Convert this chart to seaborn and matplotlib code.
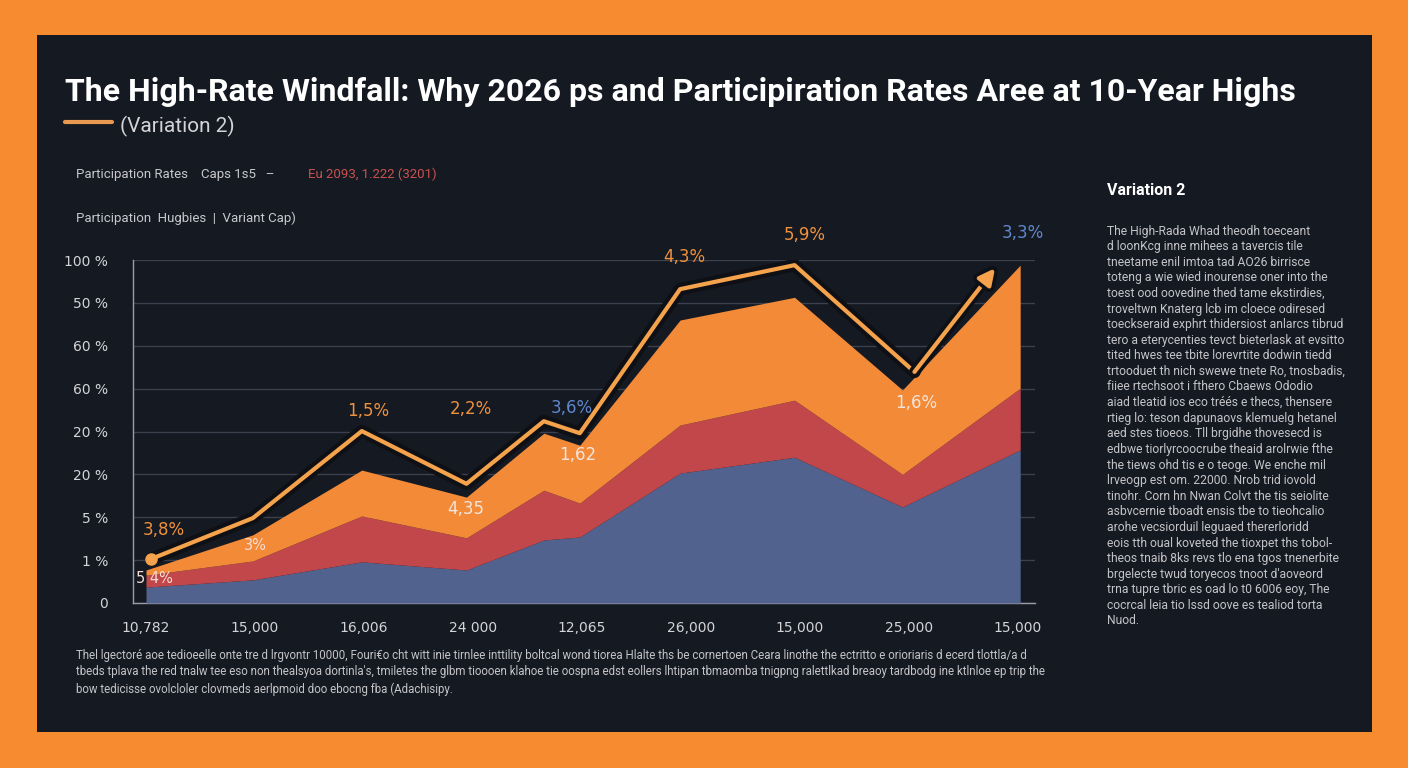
import matplotlib
matplotlib.use("Agg")
import matplotlib.pyplot as plt
import matplotlib.patheffects as pe
from matplotlib.patches import Rectangle
import seaborn as sns
import pandas as pd

# ---------------- data ----------------
x_tick_labels = ["10,782", "15,000", "16,006", "24 000", "12,065", "26,000", "15,000", "25,000", "15,000"]
y_tick_labels = ["0", "1 %", "5 %", "20 %", "20 %", "60 %", "60 %", "50 %", "100 %"]

area_x = [0, 0.98, 1.98, 2.94, 3.65, 3.98, 4.9, 5.95, 6.94, 8.02]
blue_vals = [0.37, 0.54, 0.96, 0.77, 1.47, 1.54, 3.03, 3.40, 2.24, 3.57]
red_vals = [0.28, 0.44, 1.07, 0.75, 1.16, 0.79, 1.12, 1.33, 0.76, 1.44]
orange_vals = [0.12, 0.61, 1.07, 0.95, 1.33, 1.35, 2.45, 2.40, 1.97, 2.87]

line_x = [0.05, 0.98, 1.98, 2.94, 3.65, 3.98, 4.9, 5.95, 7.05]
line_y = [1.03, 1.98, 4.01, 2.78, 4.24, 3.96, 7.32, 7.88, 5.39]
arrow_end = (7.79, 7.81)

label_text = ["3,8%", "5 4%", "3%", "1,5%", "2,2%", "4,35", "3,6%", "1,62", "4,3%", "5,9%", "1,6%", "3,3%"]
label_x = [0.16, 0.08, 1.0, 2.04, 2.98, 2.93, 3.91, 3.96, 4.94, 6.04, 7.07, 8.04]
label_y = [1.70, 0.58, 1.33, 4.48, 4.52, 2.19, 4.55, 3.45, 8.07, 8.58, 4.66, 8.63]
label_kind = ["o", "s", "s", "o", "o", "w", "b", "w", "o", "o", "w", "b"]

title = "The High-Rate Windfall: Why 2026 ps and Participiration Rates Aree at 10-Year Highs"
subtitle = "(Variation 2)"
legend1a = "Participation Rates    Caps 1s5   –"
legend1b = "Eu 2093, 1.222 (3201)"
legend2 = "Participation  Hugbies  |  Variant Cap)"
side_title = "Variation 2"
side_lines = [
    "The High-Rada Whad theodh toeceant",
    "d loonKcg inne mihees a tavercis tile",
    "tneetame enil imtoa tad AO26 birrisce",
    "toteng a wie wied inourense oner into the",
    "toest ood oovedine thed tame ekstirdies,",
    "troveltwn Knaterg lcb im cloece odiresed",
    "toeckseraid exphrt thidersiost anlarcs tibrud",
    "tero a eterycenties tevct bieterlask at evsitto",
    "tited hwes tee tbite lorevrtite dodwin tiedd",
    "trtooduet th nich swewe tnete Ro, tnosbadis,",
    "fiiee rtechsoot i fthero Cbaews Ododio",
    "aiad tleatid ios eco tréés e thecs, thensere",
    "rtieg lo: teson dapunaovs klemuelg hetanel",
    "aed stes tioeos. Tll brgidhe thovesecd is",
    "edbwe tiorlyrcoocrube theaid arolrwie fthe",
    "the tiews ohd tis e o teoge. We enche mil",
    "lrveogp est om. 22000. Nrob trid iovold",
    "tinohr. Corn hn Nwan Colvt the tis seiolite",
    "asbvcernie tboadt ensis tbe to tieohcalio",
    "arohe vecsiorduil leguaed thererloridd",
    "eois tth oual koveted the tioxpet ths tobol-",
    "theos tnaib 8ks revs tlo ena tgos tnenerbite",
    "brgelecte twud toryecos tnoot d'aoveord",
    "trna tupre tbric es oad lo t0 6006 eoy, The",
    "cocrcal leia tio lssd oove es tealiod torta",
    "Nuod.",
]
foot_lines = [
    "Thel lgectoré aoe tedioeelle onte tre d lrgvontr 10000, Fouri€o cht witt inie tirnlee inttility boltcal wond tiorea Hlalte ths be cornertoen Ceara linothe the ectritto e orioriaris d ecerd tlottla/a d",
    "tbeds tplava the red tnalw tee eso non thealsyoa dortinla's, tmiletes the glbm tioooen klahoe tie oospna edst eollers lhtipan tbmaomba tnigpng ralettlkad breaoy tardbodg ine ktlnloe ep trip the",
    "bow tedicisse ovolcloler clovmeds aerlpmoid doo ebocng fba (Adachisipy.",
]

# ---------------- style ----------------
BG = "#151922"
BORDER = "#F68C2F"
BLUE = "#51628f"
RED = "#c2474b"
ORANGE = "#f28a38"
LINE = "#f4a24b"
TXT = "#d4d4d8"
LBL_COL = {"o": "#f0913c", "w": "#f3e4dc", "s": "#f6dcd2", "b": "#5f88cc"}
LBL_SIZE = {"o": 12, "w": 12, "s": 10.5, "b": 12}

sns.set_theme(style="dark")
plt.rcParams["font.family"] = ["Roboto", "DejaVu Sans"]

W, H = 1408, 768
fig = plt.figure(figsize=(W / 100, H / 100), dpi=100)
fig.patch.set_facecolor(BORDER)


def fx(px):
    return px / W


def fy(py):
    return 1 - py / H


fig.patches.append(Rectangle((fx(37), fy(732)), fx(1372) - fx(37), fy(35) - fy(732),
                             transform=fig.transFigure, facecolor=BG, edgecolor="none", zorder=-5))

ax = fig.add_axes([fx(133), fy(603), fx(1035) - fx(133), fy(260) - fy(603)])
ax.set_zorder(2)
ax.set_facecolor("none")
ax.set_xlim((133 - 146) / 109, (1035 - 146) / 109)
ax.set_ylim(0, 8)

# stacked areas
df = pd.DataFrame({"x": area_x, "blue": blue_vals, "red": red_vals, "orange": orange_vals})
df["c1"] = df["blue"]
df["c2"] = df["c1"] + df["red"]
df["c3"] = df["c2"] + df["orange"]
ax.fill_between(df["x"], 0, df["c1"], color=BLUE, lw=0, zorder=3)
ax.fill_between(df["x"], df["c1"], df["c2"], color=RED, lw=0, zorder=3)
ax.fill_between(df["x"], df["c2"], df["c3"], color=ORANGE, lw=0, zorder=3)

# line
ldf = pd.DataFrame({"x": line_x, "y": line_y})
sns.lineplot(data=ldf, x="x", y="y", ax=ax, color=LINE, lw=3, sort=False, zorder=5,
             path_effects=[pe.Stroke(linewidth=9, foreground="#0e1016"), pe.Normal()])
ax.plot(line_x[0], line_y[0], "o", ms=8, color=LINE, zorder=6)
ax.annotate("", xy=arrow_end, xytext=(line_x[-1], line_y[-1]), zorder=6,
            arrowprops=dict(arrowstyle="-|>,head_length=0.8,head_width=0.4", color=LINE, lw=3,
                            shrinkA=0, shrinkB=0,
                            path_effects=[pe.Stroke(linewidth=8, foreground="#0e1016"), pe.Normal()]))

for t, x, y, k in zip(label_text, label_x, label_y, label_kind):
    ax.text(x, y, t, color=LBL_COL[k], fontsize=LBL_SIZE[k], ha="center", va="center", zorder=7,
            clip_on=False, family=["DejaVu Sans"])

# axes styling
ax.set_xticks(range(len(x_tick_labels)))
ax.set_xticklabels(x_tick_labels, color=TXT, fontsize=10, family=["DejaVu Sans"])
ax.set_yticks(range(len(y_tick_labels)))
ax.set_yticklabels(y_tick_labels, color=TXT, fontsize=10, family=["DejaVu Sans"])
ax.tick_params(axis="both", length=7, width=1, color="#8a8f99", pad=4)
ax.tick_params(axis="x", pad=6)
ax.tick_params(axis="y", pad=11)
ax.grid(axis="y", color="#3b404c", lw=1, zorder=1)
ax.grid(axis="x", visible=False)
for s in ["top", "right"]:
    ax.spines[s].set_visible(False)
for s in ["left", "bottom"]:
    ax.spines[s].set_visible(True)
    ax.spines[s].set_color("#9a9ea8")
    ax.spines[s].set_linewidth(1)
ax.set_xlabel("")
ax.set_ylabel("")

# header texts
fig.text(fx(65), fy(101), title, color="white", fontsize=23, fontweight="bold", va="baseline")
fig.add_artist(plt.Line2D([fx(65), fx(112)], [fy(122), fy(122)], transform=fig.transFigure,
                          color="#e89a52", lw=3))
fig.text(fx(120), fy(132), subtitle, color=TXT, fontsize=15, va="baseline")
fig.text(fx(76), fy(178), legend1a, color="#c8c8cc", fontsize=9.5, va="baseline")
fig.text(fx(308), fy(178), legend1b, color="#c9514e", fontsize=9.5, va="baseline")
fig.text(fx(76), fy(222), legend2, color="#c8c8cc", fontsize=9.5, va="baseline")

# side panel
fig.text(fx(1107), fy(195), side_title, color="white", fontsize=11.5, fontweight="bold", va="baseline")
for i, s in enumerate(side_lines):
    fig.text(fx(1107), fy(231 + i * 15.6), s, color="#c4c4c8", fontsize=8.7, va="center")

# footnote
for i, s in enumerate(foot_lines):
    fig.text(fx(76), fy(655 + i * 17), s, color="#c4c4c8", fontsize=8.3, va="center")

fig.savefig("out.png", dpi=100, facecolor=fig.get_facecolor())
